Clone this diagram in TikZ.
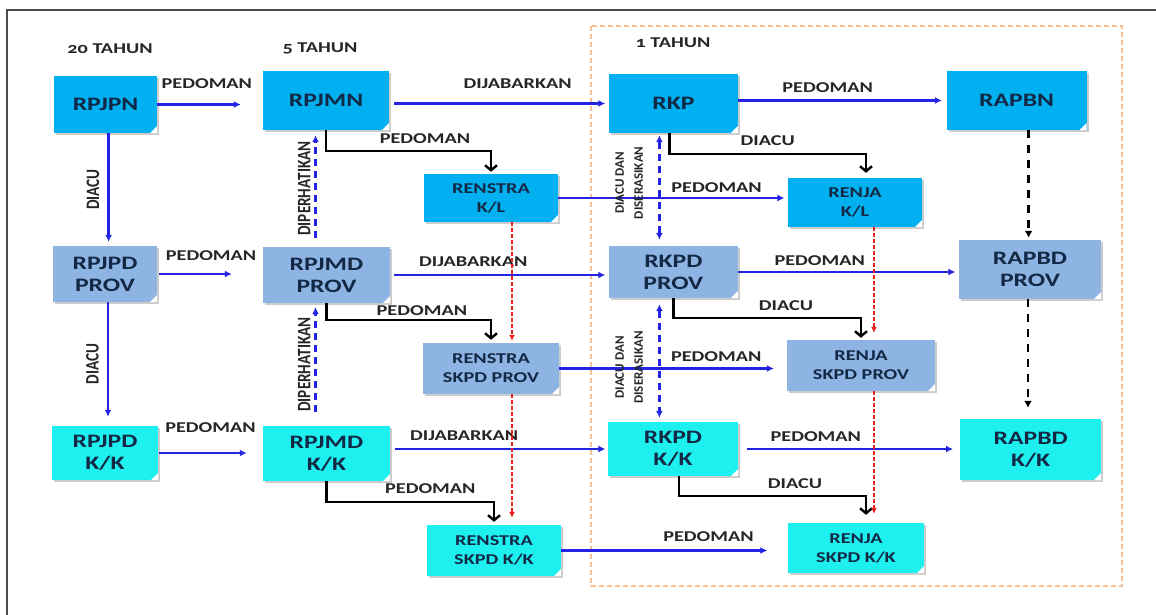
\documentclass[tikz,border=0pt]{standalone}
\usepackage{fontspec}
\setmainfont[FakeStretch=1.35]{Carlito}
\newfontfamily\tegak[FakeStretch=0.8]{Carlito}
\newfontfamily\polos{Carlito}
\usetikzlibrary{arrows.meta,shadows}

\definecolor{biruNas}{RGB}{0,176,240}
\definecolor{biruProv}{RGB}{141,180,226}
\definecolor{cyanKK}{RGB}{30,240,240}
\definecolor{tulisan}{RGB}{18,40,68}
\definecolor{garisBiru}{RGB}{35,35,225}
\definecolor{garisMerah}{RGB}{235,30,30}
\definecolor{bingkai}{RGB}{245,190,150}

\begin{document}
\begin{tikzpicture}[x=1pt, y=-1pt,
  dokumen/.style={rectangle, inner sep=0pt, align=center, text=tulisan,
    font=\bfseries\fontsize{19}{22}\selectfont,
    drop shadow={shadow xshift=2pt, shadow yshift=-2pt, fill=black, opacity=.2},
    path picture={\fill[white] ([xshift=-7pt]path picture bounding box.south east)
      -- (path picture bounding box.south east)
      -- ([yshift=7pt]path picture bounding box.south east) -- cycle;}},
  kecil/.style={font=\bfseries\fontsize{15}{19}\selectfont},
  nasional/.style={dokumen, fill=biruNas},
  provinsi/.style={dokumen, fill=biruProv},
  kabkota/.style={dokumen, fill=cyanKK},
  judul/.style={font=\bfseries\fontsize{15}{17}\selectfont\addfontfeatures{Numbers=OldStyle}, text=black!85},
  ket/.style={font=\bfseries\fontsize{15}{17}\selectfont, text=black!85},
  ketv/.style={font=\tegak\bfseries\fontsize{19}{21}\selectfont, text=black!85, rotate=90, anchor=south},
  ketd/.style={font=\polos\bfseries\fontsize{13}{19}\selectfont, text=black!85, rotate=90, anchor=south, align=center, outer sep=13pt},
  panah/.style={draw=garisBiru, line width=2.4pt, -{Latex[length=7pt,width=7pt]}},
  perhati/.style={panah, dash pattern=on 7pt off 5pt},
  serasi/.style={perhati, {Latex[length=7pt,width=7pt]}-{Latex[length=7pt,width=7pt]}},
  rujuk/.style={draw=black, line width=2.4pt, -{Straight Barb[length=5pt,width=12pt]}},
  turun/.style={draw=garisMerah, line width=2.1pt, dash pattern=on 4pt off 2pt, -{Latex[length=6pt,width=6pt]}},
  putus/.style={draw=black, line width=2.8pt, dash pattern=on 8pt off 7pt, -{Latex[length=7pt,width=8pt]}}]
  \useasboundingbox (0,0) rectangle (1156,614);

  % bingkai
  \draw[line width=2.5pt, black!70] (7,630) -- (7,10) -- (1170,10);
  \draw[bingkai, line width=1.5pt, dash pattern=on 5pt off 3pt] (591,26) rectangle (1122,586);

  \node[judul] (tahun20) at (110,49) {20 TAHUN};
  \node[judul] (tahun5) at (320,48) {5 TAHUN};
  \node[judul] (tahun1) at (673,43) {1 TAHUN};

  % nasional
  \node[nasional, minimum width=103pt, minimum height=57pt] (rpjpn) at (105.6,104.5) {RPJPN};
  \node[nasional, minimum width=126pt, minimum height=59pt] (rpjmn) at (326,100.5) {RPJMN};
  \node[nasional, kecil, minimum width=134pt, minimum height=48pt] (renstrakl) at (491,198) {RENSTRA\\K/L};
  \node[nasional, minimum width=129pt, minimum height=59pt] (rkp) at (673.4,103.5) {RKP};
  \node[nasional, kecil, minimum width=134pt, minimum height=49pt] (renjakl) at (855,202.5) {RENJA\\K/L};
  \node[nasional, minimum width=140pt, minimum height=59pt] (rapbn) at (1016.6,100.5) {RAPBN};

  % provinsi
  \node[provinsi, minimum width=104pt, minimum height=56pt] (rpjpdprov) at (105,274) {RPJPD\\PROV};
  \node[provinsi, minimum width=127pt, minimum height=56pt] (rpjmdprov) at (326.5,275) {RPJMD\\PROV};
  \node[provinsi, kecil, minimum width=136pt, minimum height=51pt] (renstraprov) at (491,368.5) {RENSTRA\\SKPD PROV};
  \node[provinsi, minimum width=129pt, minimum height=52pt] (rkpdprov) at (673.4,272) {RKPD\\PROV};
  \node[provinsi, kecil, minimum width=148pt, minimum height=51pt] (renjaprov) at (861,365.5) {RENJA\\SKPD PROV};
  \node[provinsi, minimum width=142pt, minimum height=59pt] (rapbdprov) at (1030,269.5) {RAPBD\\PROV};

  % kabupaten/kota
  \node[kabkota, minimum width=106pt, minimum height=54pt] (rpjpdkk) at (105,453) {RPJPD\\K/K};
  \node[kabkota, minimum width=127pt, minimum height=55pt] (rpjmdkk) at (326.5,453.5) {RPJMD\\K/K};
  \node[kabkota, kecil, minimum width=134pt, minimum height=51pt] (renstrakk) at (494,550.5) {RENSTRA\\SKPD K/K};
  \node[kabkota, minimum width=130pt, minimum height=54pt] (rkpdkk) at (673,449) {RKPD\\K/K};
  \node[kabkota, kecil, minimum width=136pt, minimum height=50pt] (renjakk) at (856,548) {RENJA\\SKPD K/K};
  \node[kabkota, minimum width=141pt, minimum height=61pt] (rapbdkk) at (1030.7,449.5) {RAPBD\\K/K};

  % panah mendatar
  \draw[panah, shorten >=22pt] (rpjpn.east) -- (rpjpn.east -| rpjmn.west) node[ket, pos=.47, above=11.8pt] {PEDOMAN};
  \draw[panah, shorten <=5pt, shorten >=3.4pt] (rkp.west -| rpjmn.east) -- (rkp.west) node[ket, pos=.585, above=10.8pt] {DIJABARKAN};
  \draw[panah, shorten >=4.5pt] (rapbn.west -| rkp.east) -- (rapbn.west) node[ket, pos=.43, above=3.8pt] {PEDOMAN};
  \draw[panah, shorten >=3.4pt] (renstrakl.east) -- (renstrakl.east -| renjakl.west) node[ket, pos=.69, above=1.3pt] {PEDOMAN};
  \draw[panah, shorten <=2pt, shorten >=31pt] (rpjpdprov.east) -- (rpjpdprov.east -| rpjmdprov.west) node[ket, pos=.51, above=9.3pt] {PEDOMAN};
  \draw[panah, shorten <=4pt, shorten >=3.4pt] (rpjmdprov.east) -- (rpjmdprov.east -| rkpdprov.west) node[ket, pos=.38, above=4.3pt] {DIJABARKAN};
  \draw[panah, shorten >=3.4pt] (rkpdprov.east) -- (rkpdprov.east -| rapbdprov.west) node[ket, pos=.37, above=2.3pt] {PEDOMAN};
  \draw[panah, shorten >=13pt] (renstraprov.east) -- (renstraprov.east -| renjaprov.west) node[ket, pos=.69, above=2.8pt] {PEDOMAN};
  \draw[panah, shorten <=1pt, shorten >=16pt] (rpjpdkk.east) -- (rpjpdkk.east -| rpjmdkk.west) node[ket, pos=.5, above=16.3pt] {PEDOMAN};
  \draw[panah, shorten <=5pt, shorten >=2.4pt] (rkpdkk.west -| rpjmdkk.east) -- (rkpdkk.west) node[ket, pos=.34, above=4.3pt] {DIJABARKAN};
  \draw[panah, shorten <=9pt, shorten >=7pt] (rkpdkk.east) -- (rkpdkk.east -| rapbdkk.west) node[ket, pos=.35, above=3.3pt] {PEDOMAN};
  \draw[panah, shorten >=20.5pt] (renstrakk.east) -- (renstrakk.east -| renjakk.west) node[ket, pos=.65, above=4.8pt] {PEDOMAN};

  % panah tegak
  \draw[panah, shorten >=4pt] ([xshift=3pt]rpjpn.south) -- ([xshift=3pt]rpjpn.south |- rpjpdprov.north) node[ketv, midway, outer sep=6pt] {DIACU};
  \draw[panah, shorten >=9pt] ([xshift=3pt]rpjpdprov.south) -- ([xshift=3pt]rpjpdprov.south |- rpjpdkk.north) node[ketv, midway, outer sep=6pt] {DIACU};
  \draw[perhati, shorten <=9pt, shorten >=5pt] ([xshift=-11pt]rpjmdprov.north) -- ([xshift=-11pt]rpjmdprov.north |- rpjmn.south) node[ketv, midway, outer sep=1.7pt] {DIPERHATIKAN};
  \draw[perhati, shorten <=14pt, shorten >=4pt] ([xshift=-11pt]rpjmdkk.north) -- ([xshift=-11pt]rpjmdkk.north |- rpjmdprov.south) node[ketv, midway, outer sep=1.7pt] {DIPERHATIKAN};
  \draw[serasi, shorten <=2pt, shorten >=6pt] ([xshift=-14pt]rkp.south) -- ([xshift=-14pt]rkp.south |- rkpdprov.north) node[ketd, pos=.44] {DIACU DAN\\DISERASIKAN};
  \draw[serasi, shorten <=6pt, shorten >=4pt] ([xshift=-14pt]rkpdprov.south) -- ([xshift=-14pt]rkpdprov.south |- rkpdkk.north) node[ketd, pos=.56] {DIACU DAN\\DISERASIKAN};

  % panah siku
  \draw[rujuk, shorten >=2pt] (rpjmn.south) -- ++(0,21) -| node[ket, pos=.3, above=2.7pt] {PEDOMAN} (renstrakl.north);
  \draw[rujuk, shorten >=3pt] (rpjmdprov.south) -- ++(0,17) -| node[ket, pos=.29, above=0pt] {PEDOMAN} (renstraprov.north);
  \draw[rujuk, shorten >=3pt] (rpjmdkk.south) -- ++(0,21) -| node[ket, pos=.31, above=3.7pt] {PEDOMAN} (renstrakk.north);
  \draw[rujuk, shorten >=5pt] ([xshift=-4pt]rkp.south) -- ++(0,21) -| node[ket, pos=.25, above=3.7pt] {DIACU} ([xshift=11pt]renjakl.north);
  \draw[rujuk, shorten >=2pt] (rkpdprov.south) -- ++(0,20) -| node[ket, pos=.3, above=2.7pt] {DIACU} (renjaprov.north);
  \draw[rujuk, shorten >=8pt] ([xshift=6pt]rkpdkk.south) -- ++(0,20) -| node[ket, pos=.31, above=2.7pt] {DIACU} ([xshift=10pt]renjakk.north);

  % putus-putus
  \draw[turun, shorten >=2pt] ([xshift=21pt]renstrakl.south) -- ([xshift=21pt]renstrakl.south |- renstraprov.north);
  \draw[turun, shorten >=7pt] ([xshift=21pt]renstraprov.south) -- ([xshift=21pt]renstraprov.south |- renstrakk.north);
  \draw[turun, shorten >=7pt] ([xshift=19pt]renjakl.south) -- ([xshift=19pt]renjakl.south |- renjaprov.north);
  \draw[turun, shorten >=9pt] ([xshift=13pt]renjaprov.south) -- ([xshift=13pt]renjaprov.south |- renjakk.north);
  \draw[putus, shorten >=2pt] ([xshift=12pt]rapbn.south) -- ([xshift=12pt]rapbn.south |- rapbdprov.north);
  \draw[putus, shorten >=11pt] ([xshift=-2pt]rapbdprov.south) -- ([xshift=-2pt]rapbdprov.south |- rapbdkk.north);
\end{tikzpicture}
\end{document}
